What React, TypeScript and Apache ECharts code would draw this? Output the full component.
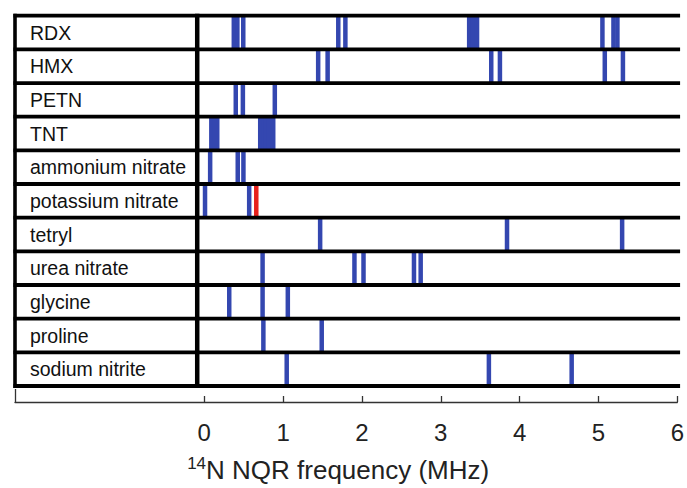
import React, { useEffect, useRef } from "react";
import * as echarts from "echarts";

// Row labels (top to bottom)
const compounds = [
  "RDX",
  "HMX",
  "PETN",
  "TNT",
  "ammonium nitrate",
  "potassium nitrate",
  "tetryl",
  "urea nitrate",
  "glycine",
  "proline",
  "sodium nitrite",
];

// 14N NQR line frequencies (MHz)
const rdxLines = [0.375, 0.42, 0.495, 1.7, 1.79, 3.36, 3.41, 3.46, 5.05, 5.19, 5.24];
const hmxLines = [1.445, 1.565, 3.64, 3.75, 5.08, 5.31];
const petnLines = [0.4, 0.49, 0.895];
const tntLines = [0.09, 0.13, 0.165, 0.71, 0.75, 0.78, 0.82, 0.85, 0.875];
const ammoniumNitrateLines = [0.075, 0.425, 0.497];
const potassiumNitrateLines = [0.01, 0.57];
const potassiumNitrateHighlight = [0.66];
const tetrylLines = [1.47, 3.84, 5.3];
const ureaNitrateLines = [0.74, 1.905, 2.02, 2.66, 2.745];
const glycineLines = [0.317, 0.74, 1.06];
const prolineLines = [0.75, 1.49];
const sodiumNitriteLines = [1.046, 3.61, 4.66];

const rowLines = [
  rdxLines,
  hmxLines,
  petnLines,
  tntLines,
  ammoniumNitrateLines,
  potassiumNitrateLines,
  tetrylLines,
  ureaNitrateLines,
  glycineLines,
  prolineLines,
  sodiumNitriteLines,
];
const highlightRows = [{ row: 5, lines: potassiumNitrateHighlight }];

// Axis
const axisMin = -2.4;
const axisMax = 6;
const tickValues = [0, 1, 2, 3, 4, 5, 6];
const rowLineEnd = 6.035; // black row rules run slightly past 6
const labelColumnEdge = -0.089; // divider between names and spectra

const BLUE = "#3447b0";
const RED = "#e8201c";
const FONT = "'Liberation Sans', Arial, sans-serif";

export default function App() {
  const ref = useRef<HTMLDivElement>(null);

  useEffect(() => {
    if (!ref.current) return;
    document.body.style.margin = "0";
    const chart = echarts.init(ref.current, undefined, { renderer: "svg" });

    const lineData: any[] = [];
    rowLines.forEach((arr, r) => arr.forEach((f) => lineData.push([f, r, 0])));
    highlightRows.forEach((h) => h.lines.forEach((f) => lineData.push([f, h.row, 1])));

    const boundaries = compounds.map((_, i) => i).concat([compounds.length]);
    const nRows = compounds.length;

    const yOf = (api: any, b: number) => {
      const h = api.size([0, 1])[1];
      if (b < nRows) return api.coord([0, b])[1] - h / 2;
      return api.coord([0, nRows - 1])[1] + h / 2;
    };

    chart.setOption({
      animation: false,
      grid: { left: 15, right: 9, top: 15.7, bottom: 98, containLabel: false },
      xAxis: [
        {
          type: "value",
          min: axisMin,
          max: axisMax,
          offset: 16,
          splitLine: { show: false },
          axisLine: { show: true, lineStyle: { color: "#333", width: 1.3 } },
          axisTick: {
            show: true,
            inside: true,
            length: 6,
            customValues: tickValues,
            lineStyle: { color: "#333", width: 1.3 },
          },
          axisLabel: {
            customValues: tickValues,
            fontSize: 24,
            color: "#222",
            fontFamily: FONT,
            margin: 18,
          },
          name: "{sup|14}{n|N NQR frequency (MHz)}",
          nameLocation: "middle",
          nameGap: 53,
          nameTextStyle: {
            fontFamily: FONT,
            color: "#222",
            padding: [0, 16, 0, 0],
            rich: {
              sup: { fontSize: 17, fontFamily: FONT, color: "#222", verticalAlign: "top", lineHeight: 28 },
              n: { fontSize: 26, fontFamily: FONT, color: "#222", verticalAlign: "bottom", lineHeight: 28 },
            },
          },
        },
        {
          type: "value",
          min: axisMin,
          max: axisMax,
          offset: 16,
          position: "bottom",
          splitLine: { show: false },
          axisLine: { show: false },
          axisTick: {
            show: true,
            inside: true,
            length: 13,
            customValues: [axisMin],
            lineStyle: { color: "#333", width: 1.3 },
          },
          axisLabel: { show: false },
        },
      ],
      yAxis: {
        type: "category",
        data: compounds,
        inverse: true,
        axisLine: { show: false },
        axisTick: { show: false },
        splitLine: { show: false },
        axisLabel: {
          inside: true,
          margin: 15,
          fontSize: 19.5,
          color: "#111",
          fontFamily: FONT,
        },
      },
      series: [
        {
          type: "custom",
          name: "lines",
          data: lineData,
          z: 2,
          renderItem: (params: any, api: any) => {
            const f = api.value(0);
            const r = api.value(1);
            const c = api.coord([f, r]);
            const h = api.size([0, 1])[1];
            return {
              type: "line",
              shape: { x1: c[0], y1: c[1] - h / 2, x2: c[0], y2: c[1] + h / 2 },
              style: { stroke: api.value(2) ? RED : BLUE, lineWidth: 4.5 },
            };
          },
        },
        {
          type: "custom",
          name: "rows",
          data: boundaries,
          z: 3,
          renderItem: (params: any, api: any) => {
            const b = api.value(0);
            const y = yOf(api, b);
            const x1 = api.coord([axisMin, 0])[0] - 1.5;
            const x2 = api.coord([rowLineEnd, 0])[0];
            return {
              type: "line",
              shape: { x1, y1: y, x2, y2: y },
              style: { stroke: "#000", lineWidth: 3.8 },
            };
          },
        },
        {
          type: "custom",
          name: "frame",
          data: [axisMin, labelColumnEdge],
          z: 3,
          renderItem: (params: any, api: any) => {
            const f = api.value(0);
            const x = api.coord([f, 0])[0];
            const y1 = yOf(api, 0) - 1.9;
            const y2 = yOf(api, nRows) + 1.9;
            return {
              type: "line",
              shape: { x1: x, y1, x2: x, y2 },
              style: { stroke: "#000", lineWidth: f === axisMin ? 3.6 : 4.5 },
            };
          },
        },
      ],
    });

    return () => chart.dispose();
  }, []);

  return <div ref={ref} style={{ width: 687, height: 488 }} />;
}
